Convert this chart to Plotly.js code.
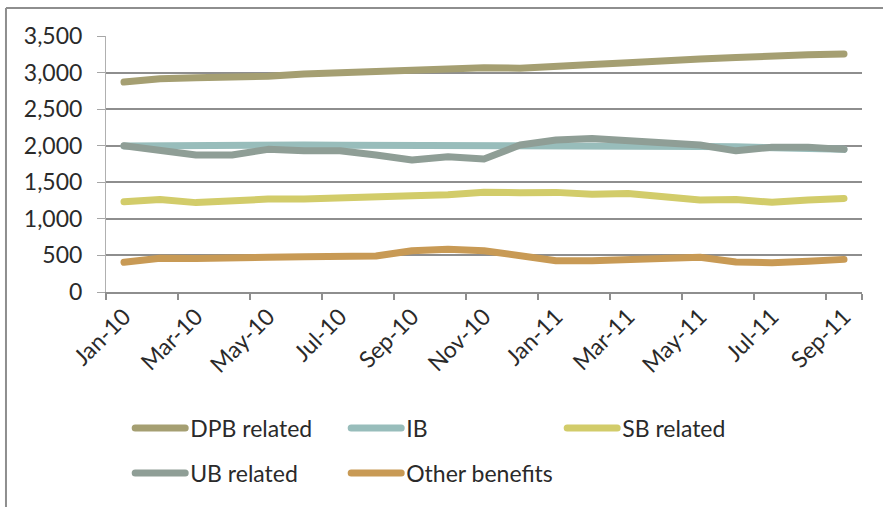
<!DOCTYPE html>
<html>
<head>
<meta charset="utf-8">
<script src="https://cdn.plot.ly/plotly-3.0.1.min.js"></script>
<style>
  html, body { margin: 0; padding: 0; background: #fff; }
  #chart { width: 883px; height: 507px; }
  .scatterlayer path.js-line, .legendlines path { stroke-linecap: round; stroke-linejoin: round; }
</style>
</head>
<body>
<div id="chart"></div>
<script>
const months = ["Jan-10","Feb-10","Mar-10","Apr-10","May-10","Jun-10","Jul-10","Aug-10","Sep-10","Oct-10","Nov-10","Dec-10",
                "Jan-11","Feb-11","Mar-11","Apr-11","May-11","Jun-11","Jul-11","Aug-11","Sep-11"];
const dpbRelated = [2870, 2915, 2930, 2935, 2950, 2980, 3000, 3025, 3030, 3045, 3065, 3060, 3075, 3110, 3135, 3170, 3185, 3205, 3230, 3245, 3255];
const ib = [1995, 2000, 2010, 2015, 2020, 2010, 2005, 2005, 2005, 2005, 2010, 2005, 2000, 2000, 2000, 1995, 1990, 1985, 1975, 1965, 1950];
const sbRelated = [1235, 1265, 1222, 1248, 1270, 1270, 1293, 1315, 1317, 1330, 1365, 1358, 1362, 1335, 1348, 1303, 1258, 1265, 1226, 1258, 1280];
const ubRelated = [2000, 1930, 1873, 1873, 1950, 1930, 1930, 1873, 1805, 1850, 1818, 2010, 2078, 2100, 2068, 2050, 2010, 1930, 1978, 1978, 1950];
const otherBenefits = [406, 460, 458, 455, 474, 483, 492, 492, 565, 583, 565, 492, 428, 428, 437, 446, 474, 410, 401, 419, 446];
const tickLabels = ["Jan-10","Mar-10","May-10","Jul-10","Sep-10","Nov-10","Jan-11","Mar-11","May-11","Jul-11","Sep-11"];
const yTicks = [0, 500, 1000, 1500, 2000, 2500, 3000, 3500];

const FONT = "Lato, 'Liberation Sans', sans-serif";
const FS = 23;
const TXT = "#2a2a2a";
const GRID = "#8e8e8e";

function tr(name, y, color, legend) {
  return { x: months, y: y, name: name, type: "scatter", mode: "lines",
           line: { color: color, width: 7 }, legend: legend, hoverinfo: "skip" };
}

const data = [
  tr("DPB related", dpbRelated, "#A59F72", "legend"),
  tr("IB", ib, "#98BDBB", "legend"),
  tr("SB related", sbRelated, "#D2CC6A", "legend"),
  tr("UB related", ubRelated, "#8F9E96", "legend2"),
  tr("Other benefits", otherBenefits, "#C89A55", "legend2")
];

const legendCommon = {
  orientation: "h", xanchor: "left", yanchor: "middle",
  entrywidth: 151, entrywidthmode: "pixels", itemwidth: 50,
  font: { family: FONT, size: FS, color: TXT },
  bgcolor: "rgba(0,0,0,0)", borderwidth: 0, tracegroupgap: 0
};

const layout = {
  width: 883, height: 507,
  margin: { l: 106, r: 21, t: 36, b: 215, pad: 0 },
  paper_bgcolor: "#fff", plot_bgcolor: "#fff",
  font: { family: FONT, size: FS, color: TXT },
  showlegend: true,
  xaxis: {
    type: "category",
    categoryorder: "array", categoryarray: months,
    range: [-0.5, months.length - 0.5],
    tickmode: "array", tickvals: tickLabels, ticktext: tickLabels,
    tickson: "boundaries",
    ticks: "outside", ticklen: 6, tickwidth: 2, tickcolor: GRID,
    tickangle: -45,
    showgrid: false, zeroline: false,
    showline: true, linecolor: GRID, linewidth: 2,
    tickfont: { family: FONT, size: FS, color: TXT }
  },
  yaxis: {
    range: [0, 3500],
    tickvals: yTicks, tickformat: ",d",
    ticks: "outside", ticklen: 8, tickwidth: 1, tickcolor: "#a6a6a6",
    ticklabelstandoff: 10,
    showgrid: true, gridcolor: GRID, gridwidth: 2,
    zeroline: false,
    showline: true, linecolor: "#b0b0b0", linewidth: 1,
    tickfont: { family: FONT, size: FS, color: TXT }
  },
  legend: Object.assign({}, legendCommon, { x: 0.032, y: -0.531 }),
  legend2: Object.assign({}, legendCommon, { x: 0.032, y: -0.707 }),
  shapes: [
    { type: "line", xref: "paper", yref: "paper", x0: -0.1323, x1: 1.04, y0: 1.109, y1: 1.109,
      line: { color: GRID, width: 2 } },
    { type: "line", xref: "paper", yref: "paper", x0: -0.1323, x1: -0.1323, y0: 1.109, y1: -0.85,
      line: { color: GRID, width: 2 } }
  ]
};

Plotly.newPlot("chart", data, layout, { displayModeBar: false, staticPlot: true });
</script>
</body>
</html>
